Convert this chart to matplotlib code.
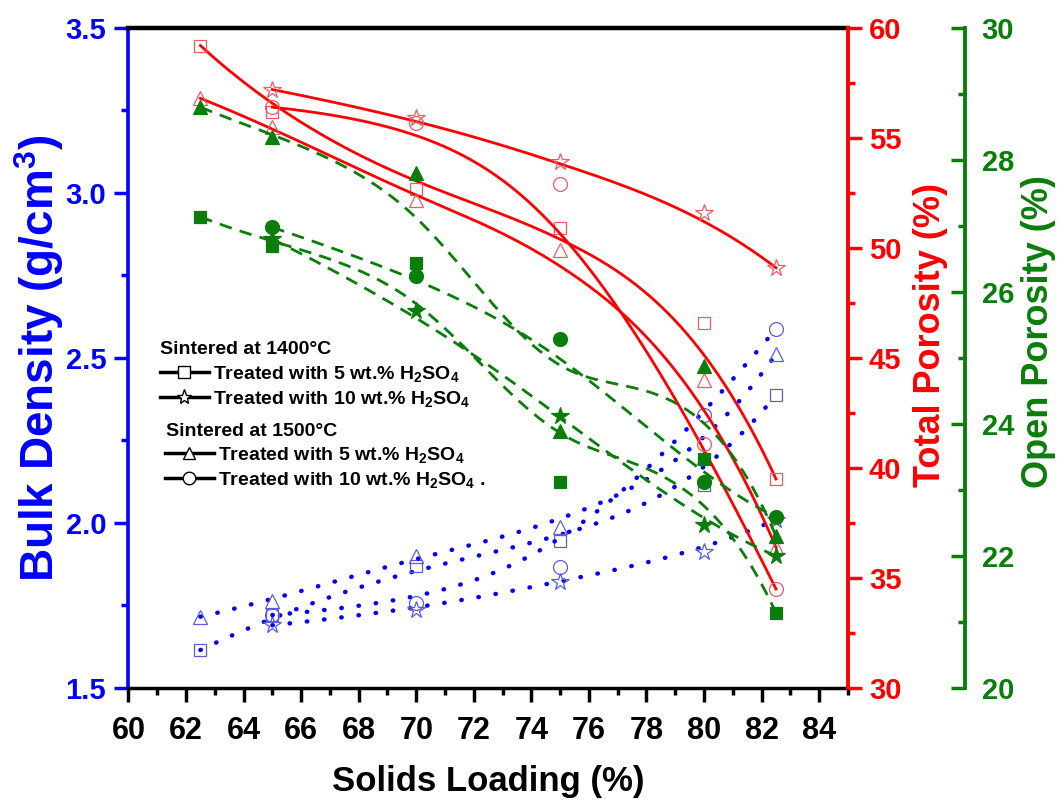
import numpy as np
import matplotlib
matplotlib.use('Agg')
import matplotlib.pyplot as plt
from matplotlib.lines import Line2D
from matplotlib.ticker import MultipleLocator, FormatStrFormatter

plt.rcParams['font.family'] = ['Liberation Sans', 'DejaVu Sans']
plt.rcParams['font.weight'] = 'bold'
plt.rcParams['axes.labelweight'] = 'bold'
plt.rcParams['mathtext.default'] = 'regular'

# solids loading (%)
x_5 = [62.5, 65, 70, 75, 80, 82.5]
x_10 = [65, 70, 75, 80, 82.5]

# bulk density (g/cm3)
bd_1400_5 = [1.615, 1.72, 1.87, 1.945, 2.115, 2.388]
bd_1400_10 = [1.69, 1.736, 1.822, 1.913, 2.01]
bd_1500_5 = [1.716, 1.765, 1.90, 1.989, 2.20, 2.512]
bd_1500_10 = [1.721, 1.758, 1.867, 2.327, 2.588]

# total porosity (%)
tp_1400_5 = [59.2, 56.2, 52.7, 50.9, 46.6, 39.5]
tp_1400_10 = [57.2, 55.9, 53.9, 51.6, 49.1]
tp_1500_5 = [56.8, 55.5, 52.2, 49.9, 44.0, 36.4]
tp_1500_10 = [56.4, 55.7, 52.9, 41.1, 34.5]

# open porosity (%)
op_1400_5 = [27.14, 26.7, 26.44, 23.12, 23.47, 21.14]
op_1400_10 = [26.8, 25.71, 24.12, 22.47, 22.0]
op_1500_5 = [28.8, 28.35, 27.8, 23.9, 24.88, 22.3]
op_1500_10 = [26.98, 26.24, 25.29, 23.12, 22.59]

BLUE = '#0000ff'
BLUE_MK = '#5a5ae6'
RED = '#ff0000'
RED_MK = '#ee5a64'
GREEN = '#0a7d0a'
NARROW = ['Liberation Sans Narrow', 'Liberation Sans']
BOLD14 = {'weight': 'bold', 'size': 14}


def bspline(x, y, k=3, n=300):
    # clamped B-spline using the data points as control points
    P = np.column_stack([x, y]).astype(float)
    npts = len(P)
    k = min(k, npts - 1)
    t = np.concatenate([np.zeros(k), np.linspace(0, 1, npts - k + 1), np.ones(k)])
    u = np.linspace(0, 1, n)
    N = np.zeros((n, len(t) - 1))
    for i in range(len(t) - 1):
        N[:, i] = (t[i] <= u) & (u < t[i + 1])
    N[u >= 1, npts - 1] = 1
    for p in range(1, k + 1):
        Nn = np.zeros((n, len(t) - 1 - p))
        for i in range(len(t) - 1 - p):
            d1 = t[i + p] - t[i]
            d2 = t[i + p + 1] - t[i + 1]
            if d1 > 0:
                Nn[:, i] += (u - t[i]) / d1 * N[:, i]
            if d2 > 0:
                Nn[:, i] += (t[i + p + 1] - u) / d2 * N[:, i + 1]
        N = Nn
    c = N @ P
    return c[:, 0], c[:, 1]


fig = plt.figure(figsize=(10.59, 8.01), dpi=100)
ax = fig.add_axes([0.1213, 0.1411, 0.6794, 0.8240])
ax2 = ax.twinx()
ax3 = ax.twinx()

# x, bulk, total, open, marker, size
series = [
    (x_5, bd_1400_5, tp_1400_5, op_1400_5, 's', 9),
    (x_10, bd_1400_10, tp_1400_10, op_1400_10, '*', 13),
    (x_5, bd_1500_5, tp_1500_5, op_1500_5, '^', 10),
    (x_10, bd_1500_10, tp_1500_10, op_1500_10, 'o', 10),
]

for x, bd, tp, op, m, ms in series:
    xs, ys = bspline(x, bd)
    ax.plot(xs, ys, color=BLUE, lw=3.2, ls=(0, (0.1, 3.8)), dash_capstyle='round')
    ax.plot(x, bd, ls='none', marker=m, ms=ms, mfc='none', mec=BLUE_MK, mew=0.9)

    xs, ys = bspline(x, tp)
    ax2.plot(xs, ys, color=RED, lw=2.0)
    ax2.plot(x, tp, ls='none', marker=m, ms=ms, mfc='none', mec=RED_MK, mew=0.9)

    xs, ys = bspline(x, op)
    ax3.plot(xs, ys, color=GREEN, lw=2.0, ls=(0, (4.5, 3)))
    ax3.plot(x, op, ls='none', marker=m, ms=ms, mfc=GREEN, mec=GREEN, mew=0.9)

# x axis
ax.set_xlim(60, 85)
ax.xaxis.set_major_locator(MultipleLocator(2))
ax.xaxis.set_minor_locator(MultipleLocator(1))
ax.tick_params(axis='x', which='major', direction='out', length=10, width=2.5,
               colors='black', pad=10, labelsize=22)
ax.tick_params(axis='x', which='minor', direction='out', length=5, width=2.5)
for t in ax.get_xticklabels():
    t.set_family(NARROW)
ax.set_xlabel('Solids Loading (%)', fontsize=25, family=NARROW, labelpad=14)

# left axis
ax.set_ylim(1.5, 3.5)
ax.yaxis.set_major_locator(MultipleLocator(0.5))
ax.yaxis.set_minor_locator(MultipleLocator(0.25))
ax.yaxis.set_major_formatter(FormatStrFormatter('%.1f'))
ax.tick_params(axis='y', which='major', direction='out', length=10, width=2.5,
               colors=BLUE, pad=6, labelsize=21)
ax.tick_params(axis='y', which='minor', direction='out', length=5, width=2.5, colors=BLUE)
ax.set_ylabel('Bulk Density (g/cm$^3$)', color=BLUE, fontsize=33)
ax.yaxis.set_label_coords(-0.087, 0.5)

ax.spines['left'].set_color(BLUE)
ax.spines['left'].set_linewidth(2.6)
ax.spines['top'].set_linewidth(3.2)
ax.spines['bottom'].set_linewidth(2.5)
ax.spines['right'].set_visible(False)

# total porosity axis
ax2.set_ylim(30, 60)
ax2.yaxis.set_major_locator(MultipleLocator(5))
ax2.yaxis.set_minor_locator(MultipleLocator(2.5))
ax2.tick_params(axis='y', which='major', direction='out', length=10, width=2.5,
                colors=RED, pad=5, labelsize=21)
ax2.tick_params(axis='y', which='minor', direction='out', length=5, width=2.5, colors=RED)
ax2.set_ylabel('Total Porosity (%)', color=RED, fontsize=26)
ax2.yaxis.set_label_coords(1.091, 0.535)
for s in ['left', 'top', 'bottom']:
    ax2.spines[s].set_visible(False)
ax2.spines['right'].set_color(RED)
ax2.spines['right'].set_linewidth(2.8)

# open porosity axis
ax3.spines['right'].set_position(('axes', 1.1626))
ax3.set_ylim(20, 30)
ax3.yaxis.set_major_locator(MultipleLocator(2))
ax3.yaxis.set_minor_locator(MultipleLocator(1))
ax3.tick_params(axis='y', which='major', direction='in', length=10, width=2.5,
                colors=GREEN, pad=12, labelsize=21)
ax3.tick_params(axis='y', which='minor', direction='in', length=5, width=2.5, colors=GREEN)
ax3.set_ylabel('Open Porosity (%)', color=GREEN, fontsize=26)
ax3.yaxis.set_label_coords(1.241, 0.54)
for s in ['left', 'top', 'bottom']:
    ax3.spines[s].set_visible(False)
ax3.spines['right'].set_color(GREEN)
ax3.spines['right'].set_linewidth(2.8)


# legend
def handle(m, ms):
    return Line2D([], [], color='black', lw=2.5, marker=m, ms=ms,
                  mfc='white', mec='black', mew=1)


lab5 = 'Treated with 5 wt.% H$_2$SO$_4$'
lab10 = 'Treated with 10 wt.% H$_2$SO$_4$'
W, H = 1059.0, 801.0

fig.text(160 / W, 1 - 350 / H, 'Sintered at 1400°C', fontsize=14, va='center')
leg1 = ax3.legend([handle('s', 8), handle('*', 11)], [lab5, lab10],
                  loc='upper left', bbox_to_anchor=(160 / W, 1 - 364 / H),
                  bbox_transform=fig.transFigure, frameon=False, prop=BOLD14,
                  borderpad=0, borderaxespad=0, handlelength=2.5,
                  handletextpad=0.25, labelspacing=0.25)
ax3.add_artist(leg1)

fig.text(166 / W, 1 - 431 / H, 'Sintered at 1500°C', fontsize=14, va='center')
ax3.legend([handle('^', 9), handle('o', 9)], [lab5, lab10 + ' .'],
           loc='upper left', bbox_to_anchor=(165 / W, 1 - 445 / H),
           bbox_transform=fig.transFigure, frameon=False, prop=BOLD14,
           borderpad=0, borderaxespad=0, handlelength=2.5,
           handletextpad=0.25, labelspacing=0.25)

fig.savefig('out.png', dpi=100)
